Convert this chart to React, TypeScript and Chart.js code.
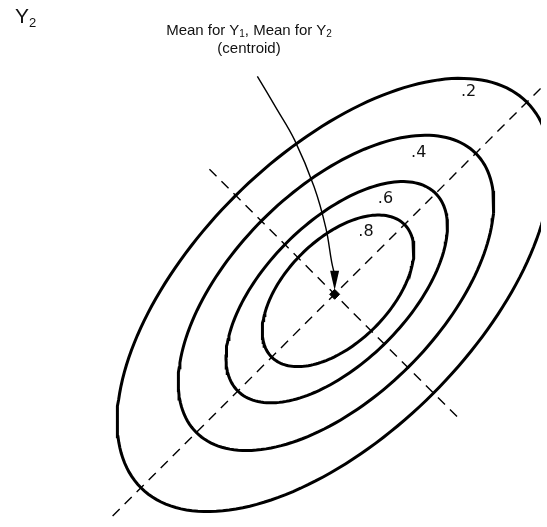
import React, { useEffect, useRef } from "react";
import { Chart, registerables } from "chart.js";

Chart.register(...registerables);

// Contour levels of the bivariate density (hand-drawn ellipses)
const levelLabels = [".2", ".4", ".6", ".8"];
// semi-axes (in plot units)
const semiMajor = [279, 202, 143, 96];
const semiMinor = [143, 106, 72, 53];
// small shift of each contour's centre along the major axis
const majorShift = [-1, 2, 3, 5];
// label anchor positions (plot units, centroid = 0,0)
const labelX = [137, 86, 52, 32];
const labelY = [207, 145, 98, 64];

// dashed principal axes end points
const majorAxisX = [-227, 214];
const majorAxisY = [-227, 214];
const minorAxisX = [-128, 128];
const minorAxisY = [128, -128];

// curved pointer from the annotation to the centroid
const arrowX = [-79, -60, -41, -21, -9, -3, 0];
const arrowY = [223, 191, 158, 110, 68, 33, 20];

const centroid = { x: 0, y: 0 };
const axisAngleDeg = 45;

function ellipsePoints(a: number, b: number, shift: number) {
  const t = (axisAngleDeg * Math.PI) / 180;
  const ux = Math.cos(t), uy = Math.sin(t);
  const vx = Math.cos(t), vy = -Math.sin(t);
  const cx = centroid.x + shift * ux;
  const cy = centroid.y + shift * uy;
  const pts: { x: number; y: number }[] = [];
  const n = 180;
  for (let i = 0; i <= n; i++) {
    const th = (i / n) * Math.PI * 2;
    const ca = a * Math.cos(th), sb = b * Math.sin(th);
    pts.push({ x: cx + ca * ux + sb * vx, y: cy + ca * uy + sb * vy });
  }
  return pts;
}

const overlayPlugin = {
  id: "overlay",
  afterDatasetsDraw(chart: any) {
    const ctx = chart.ctx;
    const xs = chart.scales.x;
    const ys = chart.scales.y;
    // arrow head
    const n = arrowX.length;
    const tipX = xs.getPixelForValue(centroid.x);
    const tipY = ys.getPixelForValue(centroid.y) - 4;
    const baseY = ys.getPixelForValue(arrowY[n - 1]) - 4;
    ctx.save();
    ctx.fillStyle = "#000";
    ctx.beginPath();
    ctx.moveTo(tipX, tipY);
    ctx.lineTo(tipX - 4.5, baseY);
    ctx.lineTo(tipX + 4.5, baseY);
    ctx.closePath();
    ctx.fill();
    // contour labels
    ctx.font = "16px 'DejaVu Sans'";
    ctx.textAlign = "center";
    ctx.textBaseline = "middle";
    ctx.fillStyle = "#111";
    levelLabels.forEach((lab, i) => {
      ctx.fillText(lab, xs.getPixelForValue(labelX[i]), ys.getPixelForValue(labelY[i]));
    });
    ctx.restore();
  },
};

export default function App() {
  const ref = useRef<HTMLCanvasElement>(null);
  useEffect(() => {
    if (!ref.current) return;
    const ellipseSets = levelLabels.map((lab, i) => ({
      label: "contour " + lab,
      data: ellipsePoints(semiMajor[i], semiMinor[i], majorShift[i]),
      showLine: true,
      borderColor: "#000",
      borderWidth: 3,
      pointRadius: 0,
      tension: 0,
      fill: false,
    }));
    const chart = new Chart(ref.current, {
      type: "scatter",
      data: {
        datasets: [
          ...ellipseSets,
          {
            label: "major axis",
            data: majorAxisX.map((x, i) => ({ x, y: majorAxisY[i] })),
            showLine: true,
            borderColor: "#000",
            borderWidth: 1.4,
            borderDash: [10, 7],
            pointRadius: 0,
          },
          {
            label: "minor axis",
            data: minorAxisX.map((x, i) => ({ x, y: minorAxisY[i] })),
            showLine: true,
            borderColor: "#000",
            borderWidth: 1.4,
            borderDash: [10, 7],
            pointRadius: 0,
          },
          {
            label: "pointer",
            data: arrowX.map((x, i) => ({ x, y: arrowY[i] })),
            showLine: true,
            borderColor: "#000",
            borderWidth: 1.4,
            tension: 0.4,
            pointRadius: 0,
          },
          {
            label: "centroid",
            data: [centroid],
            pointStyle: "rectRot",
            pointRadius: 5,
            backgroundColor: "#000",
            borderColor: "#000",
          },
        ] as any,
      },
      options: {
        animation: false,
        responsive: false,
        maintainAspectRatio: false,
        layout: { padding: 0 },
        plugins: { legend: { display: false }, tooltip: { enabled: false }, title: { display: false } },
        scales: {
          x: { type: "linear", min: -336, max: 211, display: false },
          y: { type: "linear", min: -232, max: 295, display: false },
        },
      } as any,
      plugins: [overlayPlugin],
    });
    return () => chart.destroy();
  }, []);

  const font = "'Liberation Sans', Arial, sans-serif";
  return (
    <div style={{ position: "absolute", left: 0, top: 0, width: 547, height: 527, background: "#fff", overflow: "hidden" }}>
      <canvas ref={ref} width={547} height={527} style={{ position: "absolute", left: 0, top: 0, width: 547, height: 527 }} />
      <div style={{ position: "absolute", left: 15, top: 5, fontFamily: font, fontSize: 21, lineHeight: "21px", color: "#111", whiteSpace: "nowrap" }}>
        Y<span style={{ fontSize: 13, position: "relative", top: 4 }}>2</span>
      </div>
      <div style={{ position: "absolute", left: 129, width: 240, top: 22, textAlign: "center", fontFamily: font, fontSize: 15, lineHeight: "16px", color: "#111", whiteSpace: "nowrap" }}>
        <div>
          Mean for Y<span style={{ fontSize: 10, position: "relative", top: 2 }}>1</span>, Mean for Y
          <span style={{ fontSize: 10, position: "relative", top: 2 }}>2</span>
        </div>
        <div>(centroid)</div>
      </div>
    </div>
  );
}
